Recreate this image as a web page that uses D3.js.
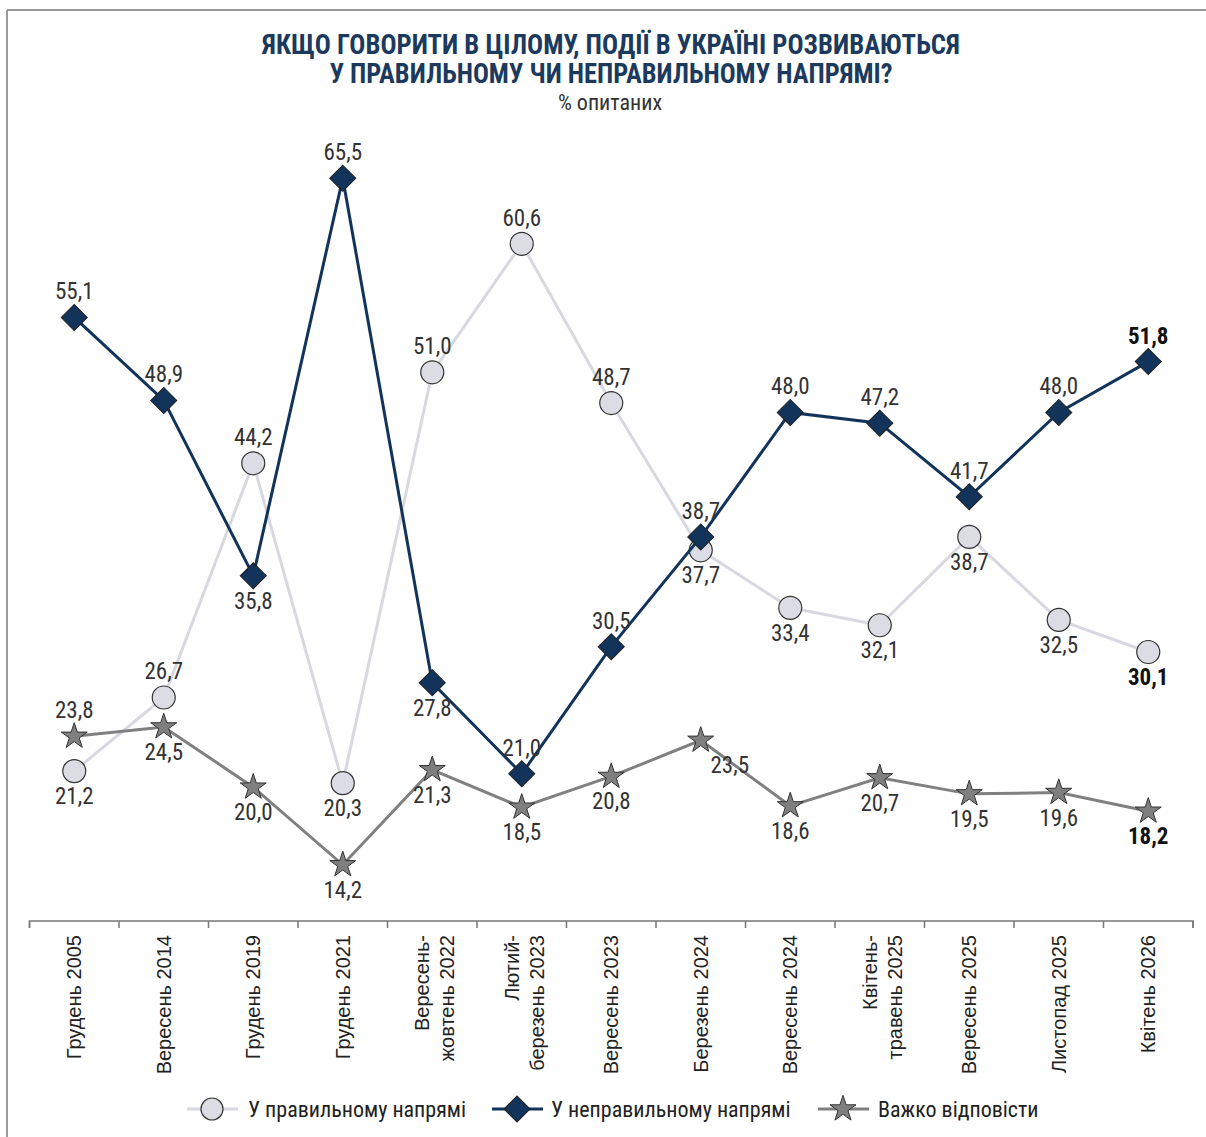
<!DOCTYPE html>
<html><head><meta charset="utf-8">
<script src="https://cdn.jsdelivr.net/npm/d3@7/dist/d3.min.js"></script>
<style>
html,body{margin:0;padding:0;background:#fff;}
svg{display:block;}
.cond{font-family:"Liberation Sans Narrow","Roboto Condensed","Arial Narrow",sans-serif;}
</style></head>
<body>
<svg id="chart" width="1206" height="1137"></svg>
<script>
const categories = [
  ["Грудень 2005"], ["Вересень 2014"], ["Грудень 2019"], ["Грудень 2021"],
  ["Вересень-", "жовтень 2022"], ["Лютий-", "березень 2023"], ["Вересень 2023"],
  ["Березень 2024"], ["Вересень 2024"], ["Квітень-", "травень 2025"],
  ["Вересень 2025"], ["Листопад 2025"], ["Квітень 2026"]
];
const rightValues = [21.2, 26.7, 44.2, 20.3, 51.0, 60.6, 48.7, 37.7, 33.4, 32.1, 38.7, 32.5, 30.1];
const wrongValues = [55.1, 48.9, 35.8, 65.5, 27.8, 21.0, 30.5, 38.7, 48.0, 47.2, 41.7, 48.0, 51.8];
const hardValues  = [23.8, 24.5, 20.0, 14.2, 21.3, 18.5, 20.8, 23.5, 18.6, 20.7, 19.5, 19.6, 18.2];
// label placement: 1 = above, -1 = below
const rightLabelPos = [-1, 1, 1, -1, 1, 1, 1, -1, -1, -1, -1, -1, -1];
const wrongLabelPos = [1, 1, -1, 1, -1, 1, 1, 1, 1, 1, 1, 1, 1];
const hardLabelPos  = [1, -1, -1, -1, -1, -1, -1, -1, -1, -1, -1, -1, -1];
const seriesNames = ["У правильному напрямі", "У неправильному напрямі", "Важко відповісти"];
const titleLines = ["ЯКЩО ГОВОРИТИ В ЦІЛОМУ, ПОДІЇ В УКРАЇНІ РОЗВИВАЮТЬСЯ", "У ПРАВИЛЬНОМУ ЧИ НЕПРАВИЛЬНОМУ НАПРЯМІ?"];
const subtitle = "% опитаних";

const svg = d3.select("#chart");
const W = 1206, H = 1137;
const navy = "#12335a";
const fmt = v => d3.format(".1f")(v).replace(".", ",");

// frame
svg.append("line").attr("x1", 7).attr("x2", W).attr("y1", 10).attr("y2", 10).attr("stroke", "#9a9a9a").attr("stroke-width", 2);
svg.append("line").attr("x1", 7).attr("x2", 7).attr("y1", 10).attr("y2", H).attr("stroke", "#9a9a9a").attr("stroke-width", 2);

// title
const titleW = [698, 563];
titleLines.forEach((t, i) => {
  svg.append("text").attr("class", "cond").attr("x", 611).attr("y", 54 + i * 29)
    .attr("text-anchor", "middle").attr("font-size", 27).attr("font-weight", "bold")
    .attr("fill", "#1b3a5e").attr("textLength", titleW[i]).attr("lengthAdjust", "spacingAndGlyphs").text(t);
});
svg.append("text").attr("class", "cond").attr("x", 610).attr("y", 110).attr("text-anchor", "middle")
  .attr("font-size", 22).attr("fill", "#333").text(subtitle);

const x = d3.scaleBand().domain(d3.range(categories.length)).range([29.5, 1193]).padding(0);
const y = d3.scaleLinear().domain([10, 70]).range([921, 118]);
const cx = i => x(i) + x.bandwidth() / 2;

// axis
const axis = d3.axisBottom(x).tickSize(7).tickFormat("");
const gAxis = svg.append("g").attr("transform", "translate(0,921)").call(axis);
gAxis.select(".domain").attr("stroke", "#777").attr("stroke-width", 1.5);
gAxis.selectAll(".tick").remove();
const bounds = d3.range(categories.length + 1).map(i => i < categories.length ? x(i) : x(categories.length - 1) + x.bandwidth());
gAxis.selectAll(".bt").data(bounds).join("line").attr("class", "bt")
  .attr("x1", d => d).attr("x2", d => d).attr("y1", 0).attr("y2", 7).attr("stroke", "#777").attr("stroke-width", 1.5);
gAxis.select(".domain").attr("d", `M${bounds[0]},7V0H${bounds[bounds.length-1]}V7`);

// category labels
categories.forEach((lines, i) => {
  const c = cx(i);
  lines.forEach((ln, j) => {
    let bx;
    if (lines.length === 1) bx = c + 7; else bx = j === 0 ? c - 3 : c + 22;
    svg.append("text").attr("transform", `translate(${bx},935) rotate(-90)`)
      .attr("text-anchor", "end").attr("font-family", "Liberation Sans, Arial, sans-serif")
      .attr("font-size", 20).attr("fill", "#222").text(ln);
  });
});

const lineGen = d3.line().x((d, i) => cx(i)).y(d => y(d));
const diamond = d3.symbol().type(d3.symbolSquare).size(340);
const star = d3.symbol().type(d3.symbolStar).size(210);

function drawLabels(vals, pos, boldLast, dxs) {
  svg.append("g").selectAll("text").data(vals).join("text").attr("class", "cond")
    .attr("x", (d, i) => cx(i) + (dxs ? dxs[i] : 0))
    .attr("y", (d, i) => pos[i] > 0 ? y(d) - 18 : y(d) + 33)
    .attr("text-anchor", "middle").attr("font-size", 23)
    .attr("font-weight", (d, i) => boldLast && i === vals.length - 1 ? "bold" : "normal")
    .attr("fill", (d, i) => boldLast && i === vals.length - 1 ? "#111" : "#333")
    .text(d => fmt(d));
}

// right series
svg.append("path").datum(rightValues).attr("d", lineGen).attr("fill", "none").attr("stroke", "#d8d8e0").attr("stroke-width", 3);
svg.append("g").selectAll("circle").data(rightValues).join("circle")
  .attr("cx", (d, i) => cx(i)).attr("cy", d => y(d)).attr("r", 11.5)
  .attr("fill", "#dcdce4").attr("stroke", "#333").attr("stroke-width", 1.2);

// wrong series
svg.append("path").datum(wrongValues).attr("d", lineGen).attr("fill", "none").attr("stroke", navy).attr("stroke-width", 3);
svg.append("g").selectAll("path").data(wrongValues).join("path")
  .attr("d", diamond).attr("transform", (d, i) => `translate(${cx(i)},${y(d)}) rotate(45)`)
  .attr("fill", navy).attr("stroke", "#222").attr("stroke-width", 1);

// hard series
svg.append("path").datum(hardValues).attr("d", lineGen).attr("fill", "none").attr("stroke", "#808080").attr("stroke-width", 3);
svg.append("g").selectAll("path").data(hardValues).join("path")
  .attr("d", star).attr("transform", (d, i) => `translate(${cx(i)},${y(d)})`)
  .attr("fill", "#7f7f7f").attr("stroke", "#333").attr("stroke-width", 1);

drawLabels(rightValues, rightLabelPos, true);
drawLabels(wrongValues, wrongLabelPos, true);
drawLabels(hardValues, hardLabelPos, true, [0,0,0,0,0,0,0,29,0,0,0,0,0]);

// legend
const legY = 1109;
const leg = [
  {x0: 187, x1: 238, mx: 212, tx: 248, name: seriesNames[0], kind: "circle"},
  {x0: 492, x1: 543, mx: 517, tx: 551, name: seriesNames[1], kind: "diamond"},
  {x0: 818, x1: 869, mx: 843, tx: 878, name: seriesNames[2], kind: "star"}
];
leg.forEach(l => {
  const g = svg.append("g");
  const col = l.kind === "circle" ? "#d8d8e0" : l.kind === "diamond" ? navy : "#808080";
  g.append("line").attr("x1", l.x0).attr("x2", l.x1).attr("y1", legY).attr("y2", legY).attr("stroke", col).attr("stroke-width", 3);
  if (l.kind === "circle") g.append("circle").attr("cx", l.mx).attr("cy", legY).attr("r", 11).attr("fill", "#dcdce4").attr("stroke", "#333").attr("stroke-width", 1.2);
  if (l.kind === "diamond") g.append("path").attr("d", diamond).attr("transform", `translate(${l.mx},${legY}) rotate(45)`).attr("fill", navy).attr("stroke", "#222");
  if (l.kind === "star") g.append("path").attr("d", star).attr("transform", `translate(${l.mx},${legY})`).attr("fill", "#7f7f7f").attr("stroke", "#333");
  g.append("text").attr("class", "cond").attr("x", l.tx).attr("y", legY + 8).attr("font-size", 22).attr("fill", "#222").text(l.name);
});
</script>
</body></html>
